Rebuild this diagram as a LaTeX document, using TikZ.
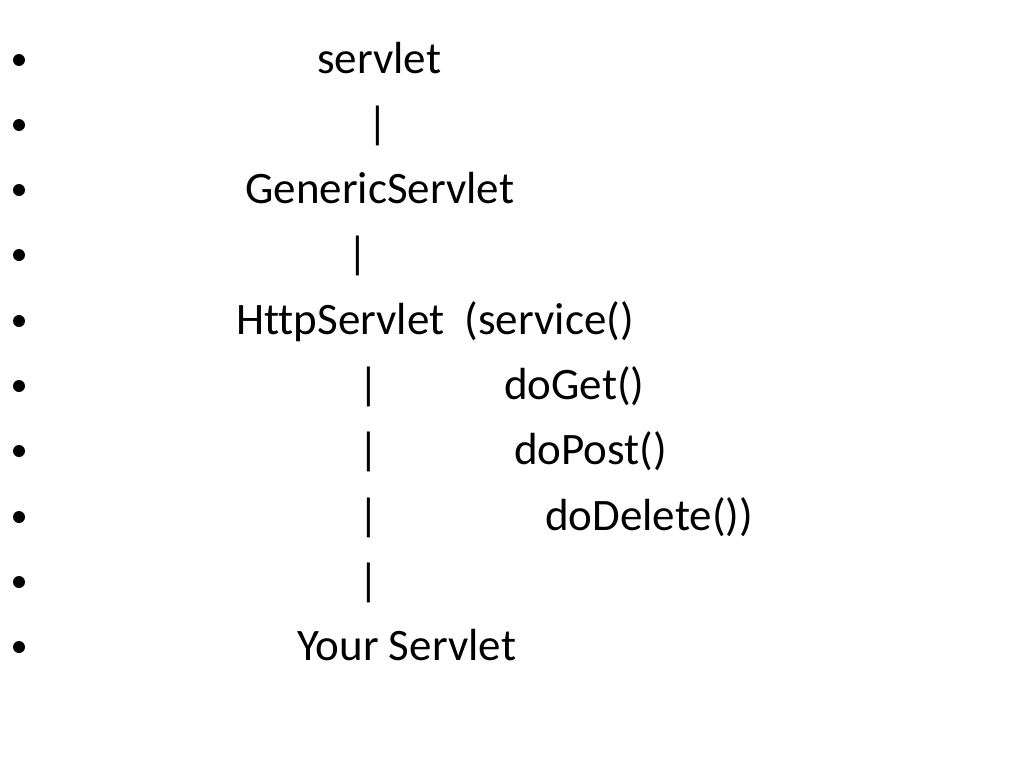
\documentclass[tikz,border=0pt]{standalone}
\usepackage{fontspec}
\setmainfont[Ligatures=NoCommon]{Carlito}
\begin{document}
\begin{tikzpicture}[x=1pt,y=1pt,
  txt/.style={anchor=base west,inner sep=0pt,font=\fontsize{45}{54}\selectfont},
  bul/.style={circle,fill=black,inner sep=0pt,minimum size=12pt}]
\useasboundingbox[fill=white] (0,0) rectangle (1024,-768);
\foreach \i/\b in {1/73,2/138,3/203,4/268,5/334,6/399,7/464,8/530,9/595,10/660}{
  \node[bul] (b\i) at (19,-\b+13) {};
}
\node[txt] (t1) at (317,-73) {servlet};
\node[txt] (t2) at (367,-138) {|};
\node[txt] (t3) at (245,-203) {GenericServlet};
\node[txt] (t4) at (347,-268) {|};
\node[txt] (t5) at (236,-334) {HttpServlet\ \ (service()};
\node[txt] (t6a) at (358,-399) {|};
\node[txt] (t6b) at (504,-399) {doGet()};
\node[txt] (t7a) at (358,-464) {|};
\node[txt] (t7b) at (514,-464) {doPost()};
\node[txt] (t8a) at (358,-530) {|};
\node[txt] (t8b) at (545,-530) {doDelete())};
\node[txt] (t9) at (358,-595) {|};
\node[txt] (t10) at (297,-660) {Your Servlet};
\end{tikzpicture}
\end{document}
